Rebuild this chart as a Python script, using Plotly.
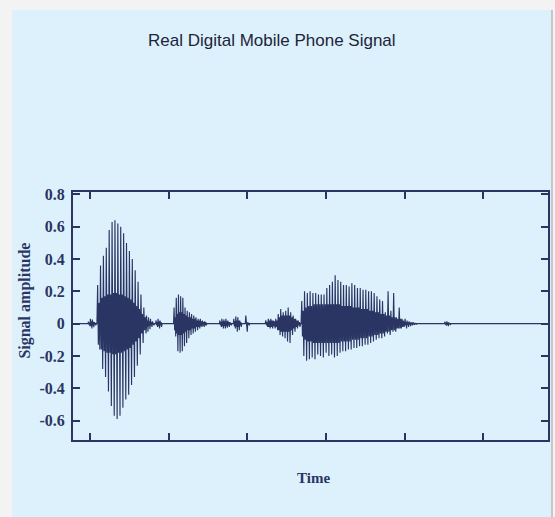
import plotly.graph_objects as go

# ---- axis labels -----------------------------------------------------------
y_tick_vals = [0.8, 0.6, 0.4, 0.2, 0.0, -0.2, -0.4, -0.6]
y_tick_text = ["0.8", "0.6", "0.4", "0.2", "0", "-0.2", "-0.4", "-0.6"]
x_tick_vals = [0, 1, 2, 3, 4, 5]

t_first, t_last = -0.215, 5.823

# ---- speech segments: start time, pitch period, per-period peaks ----------
# onset click
clickA_t0, clickA_T = -0.025, 0.025
clickA_up = [0.012, 0.03, 0.025, 0.01]
clickA_low = [-0.015, -0.03, -0.022, -0.01]
clickA_band = [0.006, 0.015, 0.012, 0.005]

# first voiced syllable
burst1_t0, burst1_T = 0.089, 0.0367
burst1_up = [0.24, 0.36, 0.42, 0.47, 0.58, 0.63, 0.64, 0.62, 0.60, 0.56,
             0.50, 0.45, 0.40, 0.33, 0.26, 0.18, 0.10]
burst1_low = [-0.16, -0.28, -0.33, -0.42, -0.51, -0.57, -0.59, -0.57, -0.52,
              -0.47, -0.44, -0.38, -0.33, -0.26, -0.19, -0.12, -0.06]
burst1_band = [0.13, 0.16, 0.17, 0.18, 0.18, 0.19, 0.19, 0.18, 0.18, 0.17,
               0.16, 0.15, 0.13, 0.11, 0.09, 0.06, 0.04]

tail1_t0, tail1_T = 0.713, 0.0253
tail1_up = [0.05, 0.04, 0.03, 0.015]
tail1_low = [-0.05, -0.035, -0.02, -0.01]
tail1_band = [0.02, 0.015, 0.01, 0.005]

blob1_t0, blob1_T = 0.835, 0.0253
blob1_up = [0.02, 0.03, 0.02]
blob1_low = [-0.02, -0.03, -0.02]
blob1_band = [0.01, 0.015, 0.01]

# second (short) syllable
burst2_t0, burst2_T = 1.063, 0.0278
burst2_up = [0.10, 0.16, 0.18, 0.17, 0.16, 0.10, 0.08, 0.07, 0.06, 0.05,
             0.04, 0.03, 0.03, 0.02, 0.015]
burst2_low = [-0.08, -0.17, -0.18, -0.17, -0.14, -0.12, -0.09, -0.07, -0.06,
              -0.05, -0.04, -0.03, -0.02, -0.02, -0.01]
burst2_band = [0.04, 0.06, 0.07, 0.07, 0.06, 0.05, 0.04, 0.04, 0.03, 0.03,
               0.02, 0.02, 0.015, 0.01, 0.01]

# unvoiced fragments
blob2_t0, blob2_T = 1.646, 0.0253
blob2_up = [0.02, 0.03, 0.025, 0.03, 0.02, 0.01]
blob2_low = [-0.02, -0.03, -0.03, -0.025, -0.02, -0.01]
blob2_band = [0.01, 0.015, 0.015, 0.015, 0.01, 0.005]

blob3_t0, blob3_T = 1.823, 0.0253
blob3_up = [0.03, 0.045, 0.04, 0.02]
blob3_low = [-0.03, -0.05, -0.04, -0.02]
blob3_band = [0.015, 0.02, 0.02, 0.01]

spike_t0, spike_T = 1.975, 0.0253
spike_up = [0.05, 0.01]
spike_low = [-0.05, -0.01]
spike_band = [0.01, 0.005]

segD_t0, segD_T = 2.228, 0.0316
segD_up = [0.02, 0.03, 0.03, 0.02, 0.03, 0.06, 0.09, 0.07, 0.08, 0.10,
           0.07, 0.05, 0.03, 0.02]
segD_low = [-0.02, -0.03, -0.03, -0.03, -0.04, -0.07, -0.08, -0.09, -0.11,
            -0.12, -0.07, -0.05, -0.03, -0.02]
segD_band = [0.01, 0.02, 0.02, 0.015, 0.02, 0.04, 0.05, 0.05, 0.05, 0.05,
             0.04, 0.03, 0.02, 0.01]

# third (long) syllable
burst3_t0, burst3_T = 2.684, 0.0354
burst3_up = [0.14, 0.20, 0.19, 0.20, 0.19, 0.19, 0.18, 0.18, 0.18, 0.22,
             0.24, 0.26, 0.30, 0.27, 0.26, 0.24, 0.24, 0.23, 0.25, 0.24,
             0.22, 0.22, 0.21, 0.21, 0.20, 0.20, 0.19, 0.17, 0.15, 0.14,
             0.07, 0.20, 0.08, 0.19, 0.04, 0.10, 0.03]
burst3_low = [-0.20, -0.23, -0.22, -0.21, -0.22, -0.19, -0.20, -0.21, -0.18,
              -0.20, -0.19, -0.21, -0.20, -0.18, -0.17, -0.17, -0.16, -0.16,
              -0.15, -0.15, -0.14, -0.14, -0.13, -0.13, -0.12, -0.11, -0.10,
              -0.09, -0.09, -0.08, -0.06, -0.07, -0.05, -0.05, -0.03, -0.03,
              -0.02]
burst3_band = [0.08, 0.10, 0.11, 0.11, 0.12, 0.12, 0.12, 0.12, 0.12, 0.12,
               0.12, 0.12, 0.12, 0.12, 0.11, 0.11, 0.11, 0.11, 0.10, 0.10,
               0.10, 0.09, 0.09, 0.09, 0.08, 0.08, 0.07, 0.07, 0.06, 0.06,
               0.05, 0.05, 0.04, 0.04, 0.03, 0.03, 0.02]

tail3_t0, tail3_T = 4.0, 0.0253
tail3_up = [0.03, 0.02, 0.015, 0.01, 0.01, 0.005]
tail3_low = [-0.03, -0.02, -0.015, -0.01, -0.008, -0.005]
tail3_band = [0.01, 0.008, 0.006, 0.005, 0.004, 0.003]

dot_t0, dot_T = 4.506, 0.0253
dot_up = [0.012, 0.015, 0.008]
dot_low = [-0.012, -0.015, -0.008]
dot_band = [0.006, 0.008, 0.004]

segments = [
    (clickA_t0, clickA_T, clickA_up, clickA_low, clickA_band),
    (burst1_t0, burst1_T, burst1_up, burst1_low, burst1_band),
    (tail1_t0, tail1_T, tail1_up, tail1_low, tail1_band),
    (blob1_t0, blob1_T, blob1_up, blob1_low, blob1_band),
    (burst2_t0, burst2_T, burst2_up, burst2_low, burst2_band),
    (blob2_t0, blob2_T, blob2_up, blob2_low, blob2_band),
    (blob3_t0, blob3_T, blob3_up, blob3_low, blob3_band),
    (spike_t0, spike_T, spike_up, spike_low, spike_band),
    (segD_t0, segD_T, segD_up, segD_low, segD_band),
    (burst3_t0, burst3_T, burst3_up, burst3_low, burst3_band),
    (tail3_t0, tail3_T, tail3_up, tail3_low, tail3_band),
    (dot_t0, dot_T, dot_up, dot_low, dot_band),
]

# ---- assemble sampled waveform (4 samples per pitch period) ---------------
ts, amps = [t_first], [0.0]
for t0, period, up, low, band in segments:
    step = period / 4
    ts.append(t0)
    amps.append(0.0)
    t = t0
    for u, l, b in zip(up, low, band):
        for v in (u, -b, b, l):
            t += step
            ts.append(t)
            amps.append(v)
    ts.append(t + step)
    amps.append(0.0)
ts.append(t_last)
amps.append(0.0)

ink = "#2b3563"
panel = "#ddf1fd"

fig = go.Figure(
    go.Scatter(x=ts, y=amps, mode="lines",
               line=dict(color=ink, width=1.15), hoverinfo="skip")
)

axis_common = dict(
    showline=True, linecolor=ink, linewidth=2, mirror="allticks",
    ticks="inside", ticklen=7, tickwidth=1.5, tickcolor=ink,
    showgrid=False, zeroline=False,
)

fig.update_xaxes(range=[t_first, t_last], tickvals=x_tick_vals,
                 showticklabels=False, **axis_common)
fig.update_yaxes(range=[-0.72, 0.815], tickvals=y_tick_vals,
                 ticktext=[f"<b>{s}</b>" for s in y_tick_text],
                 ticklabelstandoff=3,
                 tickfont=dict(family="Liberation Serif", size=16, color=ink),
                 **axis_common)

fig.update_layout(
    width=555, height=517,
    margin=dict(l=73, r=5, t=192, b=77),
    paper_bgcolor="#f3f3f3",
    plot_bgcolor="rgba(0,0,0,0)",
    showlegend=False,
    shapes=[
        dict(type="rect", xref="paper", yref="paper",
             x0=-0.128, x1=1.0063, y0=-0.32, y1=1.734,
             fillcolor=panel, line=dict(width=0), layer="below"),
        dict(type="line", xref="paper", yref="paper",
             x0=1.0084, x1=1.0084, y0=-0.32, y1=1.734,
             line=dict(color="#b8b8b8", width=1.5), layer="below"),
    ],
    annotations=[
        dict(text="Real Digital Mobile Phone Signal", xref="paper",
             yref="paper", x=0.419, y=1.609, showarrow=False,
             xanchor="center", yanchor="middle",
             font=dict(family="Liberation Sans", size=17, color="#1e2438")),
        dict(text="<b>Signal amplitude</b>", xref="paper", yref="paper",
             x=-0.1, y=0.56, textangle=-90, showarrow=False,
             xanchor="center", yanchor="middle",
             font=dict(family="Liberation Serif", size=16, color=ink)),
        dict(text="<b>Time</b>", xref="paper", yref="paper",
             x=0.507, y=-0.153, showarrow=False,
             xanchor="center", yanchor="middle",
             font=dict(family="Liberation Serif", size=15, color=ink)),
    ],
)

fig.write_html("out.html")
